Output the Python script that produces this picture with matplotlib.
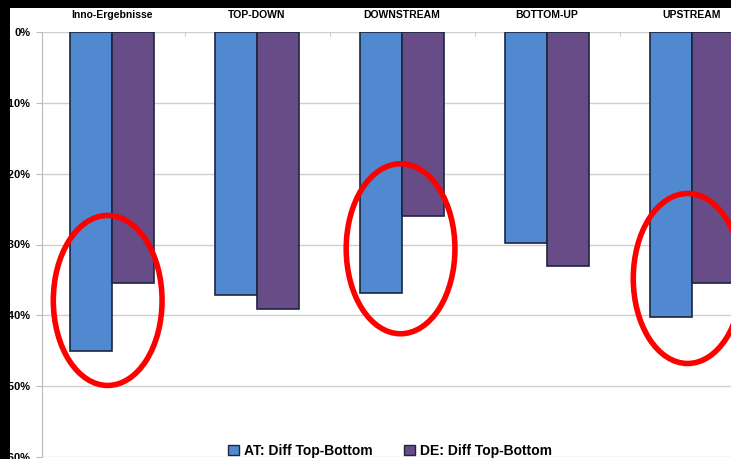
import matplotlib
matplotlib.use("Agg")
import matplotlib.pyplot as plt
from matplotlib.patches import Ellipse, Rectangle, Patch
import numpy as np

categories = ["Inno-Ergebnisse", "TOP-DOWN", "DOWNSTREAM", "BOTTOM-UP", "UPSTREAM"]
at_diff = [-45.0, -37.1, -36.8, -29.8, -40.3]
de_diff = [-35.4, -39.1, -26.0, -33.1, -35.5]
series_names = ["AT: Diff Top-Bottom", "DE: Diff Top-Bottom"]
y_ticks = [0, -10, -20, -30, -40, -50, -60]
y_labels = ["0%", "-10%", "-20%", "-30%", "-40%", "-50%", "-60%"]

# highlighted groups (x centre, y centre)
highlights = [(-0.03, -37.9), (1.99, -30.6), (3.97, -34.8)]

blue = "#5089cf"
purple = "#684c88"
edge = "#1c2640"

plt.rcParams['font.family'] = ['Liberation Sans Narrow', 'Liberation Sans', 'DejaVu Sans']

W, H = 731, 459
fig = plt.figure(figsize=(W / 100, H / 100), dpi=100, facecolor="black")
# white chart area
fig.add_artist(Rectangle((10 / W, 0), 1, 1 - 8 / H, transform=fig.transFigure,
                         facecolor="white", edgecolor="none", zorder=0))

ax = fig.add_axes([42 / W, 2 / H, 1 - 42 / W, (457 - 32) / H])
ax.set_facecolor("none")

x = np.arange(len(categories))
w = 0.29
ax.bar(x - w / 2, at_diff, w, color=blue, edgecolor=edge, linewidth=1.2, zorder=3)
ax.bar(x + w / 2, de_diff, w, color=purple, edgecolor=edge, linewidth=1.2, zorder=3)

ax.set_yticks(y_ticks)
ax.set_yticklabels(y_labels, fontsize=8, fontweight="bold")
ax.yaxis.grid(True, color="#cfcfcf", linewidth=1.0, zorder=0)
ax.tick_params(axis="y", length=4, color="#bbbbbb", pad=4)

ax.xaxis.tick_top()
ax.set_xticks(x)
ax.set_xticklabels(categories, fontsize=7.5, fontweight="bold")
ax.tick_params(axis="x", which="major", length=0, pad=9)
ax.set_xticks(np.arange(len(categories) - 1) + 0.5, minor=True)
ax.tick_params(axis="x", which="minor", length=3, direction="in", color="#bbbbbb")

for side in ["top", "right", "bottom"]:
    ax.spines[side].set_visible(False)
ax.spines["left"].set_color("#bbbbbb")

# red ellipses
for xc, yc in highlights:
    ax.add_patch(Ellipse((xc, yc), 0.75, 24.0, fill=False,
                         edgecolor="red", linewidth=4.0, zorder=5))

ax.set_xlim(-0.483, 4.269)
ax.set_ylim(-60, 0)

handles = [Patch(facecolor=blue, edgecolor=edge), Patch(facecolor=purple, edgecolor=edge)]
fig.legend(handles, series_names, loc="center", bbox_to_anchor=(390 / W, 1 - 451 / H),
           ncol=2, frameon=False, handlelength=0.8, handleheight=0.8,
           columnspacing=2.2, handletextpad=0.4, prop={"weight": "bold", "size": 10})

fig.savefig("out.png", dpi=100, facecolor="black")
